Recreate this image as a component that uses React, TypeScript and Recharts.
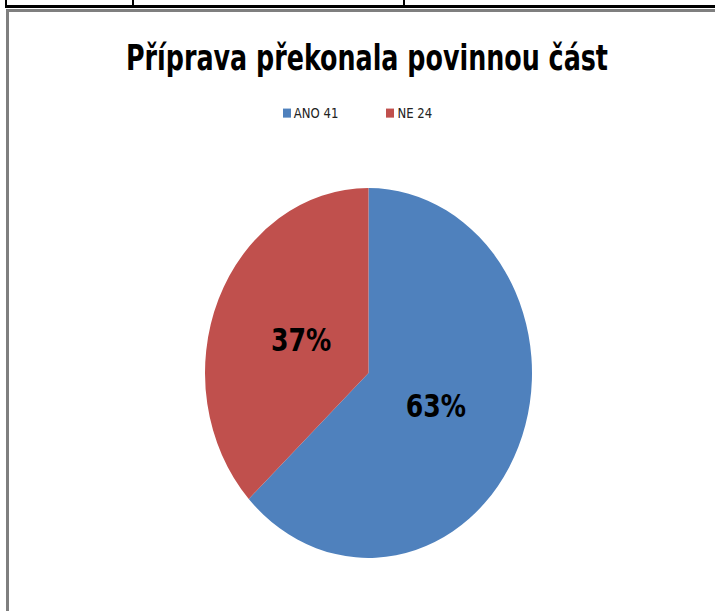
import { PieChart, Pie, Cell, Legend } from 'recharts';

const categories = ['ANO', 'NE'];
const counts = [41, 24];
const COLORS = ['#4F81BD', '#C0504D'];
const TITLE = 'Příprava překonala povinnou část';

const STRETCH = 1.131;
const FONT = '"Liberation Sans Narrow", "DejaVu Sans Condensed", "DejaVu Sans", sans-serif';

const data = categories.map((name, i) => ({
  name: `${name} ${counts[i]}`,
  value: counts[i],
}));

const RADIAN = Math.PI / 180;

function renderLabel({ cx, cy, midAngle, outerRadius, percent }: any) {
  const r = outerRadius * 0.45;
  const x = cx + r * Math.cos(-midAngle * RADIAN);
  const y = cy + r * Math.sin(-midAngle * RADIAN);
  return (
    <text
      x={x}
      y={y}
      textAnchor="middle"
      dominantBaseline="central"
      fill="#000"
      fontFamily={FONT}
      fontWeight="bold"
      fontSize={28}
    >
      {`${Math.round(percent * 100)}%`}
    </text>
  );
}

function LegendContent({ payload }: any) {
  return (
    <div style={{ display: 'flex', justifyContent: 'center', gap: 48, fontFamily: FONT, fontSize: 13, color: '#222' }}>
      {(payload || []).map((p: any) => (
        <div key={p.value} style={{ display: 'flex', alignItems: 'center' }}>
          <span style={{ display: 'inline-block', width: 8, height: 8, background: p.color, marginRight: 3 }} />
          <span>{p.value}</span>
        </div>
      ))}
    </div>
  );
}

export default function App() {
  return (
    <div style={{ position: 'absolute', left: 0, top: 0, width: 715, height: 611, overflow: 'hidden', background: '#fff' }}>
      {/* table row above the chart */}
      <div style={{ position: 'absolute', left: 5, top: 5, width: 720, height: 3, background: '#000' }} />
      <div style={{ position: 'absolute', left: 5, top: 0, width: 2, height: 6, background: '#000' }} />
      <div style={{ position: 'absolute', left: 132, top: 0, width: 2, height: 6, background: '#000' }} />
      <div style={{ position: 'absolute', left: 403, top: 0, width: 2, height: 6, background: '#000' }} />
      {/* chart frame */}
      <div style={{ position: 'absolute', left: 6, top: 9, width: 720, height: 620, borderLeft: '3px solid #7f7f7f', borderTop: '3px solid #7f7f7f' }} />

      <div style={{ position: 'absolute', left: 0, top: 0, transform: `scaleY(${STRETCH})`, transformOrigin: 'top left' }}>
        <PieChart width={715} height={540} margin={{ top: 0, right: 0, bottom: 0, left: 0 }}>
          <text
            x={367}
            y={51}
            textAnchor="middle"
            dominantBaseline="central"
            fontFamily={FONT}
            fontWeight="bold"
            fontSize={31}
            fill="#000"
            textLength={482}
            lengthAdjust="spacingAndGlyphs"
          >
            {TITLE}
          </text>
          <Legend
            verticalAlign="top"
            align="center"
            content={<LegendContent />}
            wrapperStyle={{ top: 92, left: 0, width: 715 }}
          />
          <Pie
            data={data}
            dataKey="value"
            nameKey="name"
            cx={368.5}
            cy={312.8}
            outerRadius={163.5}
            startAngle={90}
            endAngle={-270}
            stroke="none"
            label={renderLabel}
            labelLine={false}
            isAnimationActive={false}
          >
            {data.map((entry, i) => (
              <Cell key={entry.name} fill={COLORS[i]} />
            ))}
          </Pie>
        </PieChart>
      </div>
    </div>
  );
}
